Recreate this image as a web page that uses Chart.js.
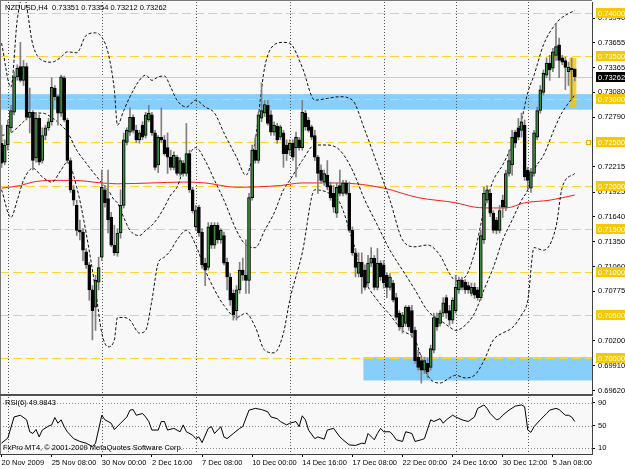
<!DOCTYPE html>
<html lang="en">
<head>
<meta charset="UTF-8">
<title>NZDUSD,H4</title>
<style>
  html, body { margin: 0; padding: 0; background: #fff; }
  #wrap { position: relative; width: 625px; height: 469px; overflow: hidden; }
  #wrap canvas { position: absolute; left: 0; }
  #mainChart { top: 0; }
  #rsiChart { top: 396px; }
</style>
</head>
<body>
<div id="wrap">
  <canvas id="mainChart" width="625" height="396"></canvas>
  <canvas id="rsiChart" width="625" height="73"></canvas>
</div>
<script src="https://cdn.jsdelivr.net/npm/chart.js"></script>
<script>
  // trading sessions shown on the chart (H4 bars)
  const sessionDays  = ['20 Nov','23 Nov','24 Nov','25 Nov','26 Nov','27 Nov','30 Nov','1 Dec','2 Dec','3 Dec','4 Dec',
                        '7 Dec','8 Dec','9 Dec','10 Dec','11 Dec','14 Dec','15 Dec','16 Dec','17 Dec','18 Dec',
                        '21 Dec','22 Dec','23 Dec','24 Dec','28 Dec','29 Dec','30 Dec','31 Dec','4 Jan','5 Jan','6 Jan'];
  const sessionOpen  = [16,0,0,0,0,0,0,0,0,0,0,0,0,0,0,0,0,0,0,0,0,0,0,0,0,0,0,0,0,0,0,0];
  const sessionClose = [20,20,20,20,20,20,20,20,20,20,20,20,20,20,20,20,20,20,20,20,20,20,20,20,16,20,20,20,16,20,20,12];
  const futureSlots = 5;

  const timeTickIdx  = [0, 16, 32, 48, 64, 80, 96, 112, 128, 144, 160, 176];
  const timeTickText = ['20 Nov 2009','25 Nov 08:00','30 Nov 00:00','2 Dec 16:00','7 Dec 08:00','10 Dec 00:00',
                        '14 Dec 16:00','17 Dec 08:00','22 Dec 00:00','24 Dec 16:00','30 Dec 12:00','5 Jan 08:00'];
  const weekStartIdx = [2, 32, 62, 92, 122, 145, 168];

  const opens = [
    0.7249,0.7227,0.7247,0.7267,0.7285,0.7326,0.7338,0.7322,0.7338,0.7279,
    0.7285,0.7232,0.7278,0.7229,0.7258,0.7267,0.7274,0.7313,0.7303,0.7284,
    0.7325,0.7276,0.7229,0.7195,0.7177,0.7148,0.7146,0.7123,0.7108,0.7079,
    0.7059,0.7088,0.7117,0.7195,0.7185,0.7163,0.7131,0.7122,0.7145,0.7177,
    0.7250,0.7262,0.7279,0.7264,0.7253,0.7270,0.7258,0.7276,0.7282,0.7261,
    0.7224,0.7256,0.7253,0.7244,0.7233,0.7221,0.7233,0.7214,0.7226,0.7214,
    0.7237,0.7195,0.7152,0.7175,0.7146,0.7110,0.7105,0.7154,0.7131,0.7154,
    0.7137,0.7142,0.7111,0.7094,0.7075,0.7055,0.7079,0.7102,0.7096,0.7090,
    0.7186,0.7241,0.7229,0.7278,0.7284,0.7293,0.7282,0.7262,0.7269,0.7256,
    0.7261,0.7247,0.7241,0.7249,0.7244,0.7253,0.7244,0.7284,0.7276,0.7268,
    0.7258,0.7233,0.7218,0.7204,0.7212,0.7200,0.7191,0.7168,0.7200,0.7191,
    0.7203,0.7191,0.7148,0.7122,0.7098,0.7111,0.7102,0.7087,0.7110,0.7116,
    0.7082,0.7110,0.7108,0.7096,0.7082,0.7087,0.7070,0.7052,0.7036,0.7040,
    0.7059,0.7055,0.7032,0.7001,0.6997,0.6986,0.6994,0.6989,0.7009,0.7046,
    0.7040,0.7052,0.7070,0.7055,0.7044,0.7055,0.7079,0.7090,0.7088,0.7084,
    0.7075,0.7082,0.7079,0.7070,0.7137,0.7183,0.7191,0.7168,0.7160,0.7148,
    0.7183,0.7175,0.7214,0.7224,0.7262,0.7267,0.7264,0.7270,0.7218,0.7197,
    0.7214,0.7256,0.7287,0.7308,0.7328,0.7342,0.7336,0.7351,0.7363,0.7348,
    0.7345,0.7332,0.7336,0.73351];
  const highs = [
    0.7270,0.7253,0.7276,0.7293,0.7332,0.7340,0.7366,0.7345,0.7342,0.7313,
    0.7287,0.7285,0.7282,0.7267,0.7270,0.7278,0.7325,0.7316,0.7305,0.7328,
    0.7327,0.7278,0.7232,0.7200,0.7183,0.7160,0.7150,0.7127,0.7111,0.7084,
    0.7096,0.7117,0.7218,0.7200,0.7218,0.7169,0.7154,0.7150,0.7195,0.7261,
    0.7267,0.7290,0.7282,0.7270,0.7264,0.7274,0.7285,0.7293,0.7285,0.7264,
    0.7258,0.7290,0.7258,0.7261,0.7241,0.7239,0.7235,0.7232,0.7229,0.7272,
    0.7241,0.7198,0.7177,0.7177,0.7150,0.7116,0.7157,0.7157,0.7157,0.7157,
    0.7150,0.7146,0.7116,0.7098,0.7079,0.7084,0.7111,0.7116,0.7137,0.7191,
    0.7247,0.7256,0.7285,0.7319,0.7299,0.7299,0.7287,0.7274,0.7272,0.7270,
    0.7264,0.7253,0.7253,0.7253,0.7262,0.7256,0.7299,0.7287,0.7279,0.7270,
    0.7264,0.7235,0.7224,0.7218,0.7229,0.7204,0.7200,0.7203,0.7218,0.7206,
    0.7206,0.7204,0.7152,0.7127,0.7122,0.7122,0.7108,0.7119,0.7128,0.7119,
    0.7127,0.7113,0.7113,0.7099,0.7098,0.7090,0.7075,0.7055,0.7053,0.7061,
    0.7061,0.7061,0.7036,0.7009,0.7003,0.7001,0.7000,0.7015,0.7052,0.7052,
    0.7055,0.7070,0.7073,0.7061,0.7070,0.7096,0.7094,0.7094,0.7091,0.7088,
    0.7087,0.7087,0.7082,0.7148,0.7198,0.7200,0.7195,0.7171,0.7163,0.7177,
    0.7189,0.7218,0.7241,0.7264,0.7264,0.7278,0.7284,0.7276,0.7221,0.7220,
    0.7264,0.7291,0.7316,0.7334,0.7348,0.7351,0.7359,0.7388,0.7371,0.7351,
    0.7349,0.7343,0.7348,0.73354];
  const lows = [
    0.7221,0.7224,0.7241,0.7262,0.7282,0.7322,0.7320,0.7316,0.7276,0.7261,
    0.7218,0.7227,0.7224,0.7226,0.7253,0.7264,0.7270,0.7299,0.7270,0.7280,
    0.7274,0.7226,0.7192,0.7177,0.7142,0.7137,0.7113,0.7104,0.7067,0.7021,
    0.7032,0.7079,0.7113,0.7175,0.7145,0.7129,0.7119,0.7118,0.7139,0.7174,
    0.7247,0.7258,0.7261,0.7250,0.7249,0.7253,0.7255,0.7274,0.7258,0.7218,
    0.7215,0.7250,0.7235,0.7214,0.7218,0.7218,0.7212,0.7211,0.7211,0.7211,
    0.7192,0.7168,0.7148,0.7141,0.7104,0.7084,0.7102,0.7127,0.7127,0.7133,
    0.7133,0.7108,0.7079,0.7061,0.7044,0.7044,0.7075,0.7090,0.7075,0.7075,
    0.7183,0.7226,0.7226,0.7274,0.7280,0.7270,0.7258,0.7258,0.7249,0.7253,
    0.7221,0.7229,0.7235,0.7229,0.7210,0.7241,0.7241,0.7264,0.7262,0.7253,
    0.7229,0.7191,0.7203,0.7200,0.7195,0.7183,0.7169,0.7163,0.7188,0.7188,
    0.7189,0.7146,0.7119,0.7094,0.7094,0.7075,0.7079,0.7083,0.7106,0.7079,
    0.7079,0.7090,0.7081,0.7070,0.7079,0.7065,0.7044,0.7032,0.7029,0.7037,
    0.7032,0.7024,0.6994,0.6986,0.6971,0.6982,0.6977,0.6986,0.7006,0.7032,
    0.7037,0.7048,0.7046,0.7038,0.7040,0.7052,0.7075,0.7079,0.7075,0.7075,
    0.7072,0.7069,0.7067,0.7067,0.7133,0.7180,0.7164,0.7145,0.7144,0.7145,
    0.7163,0.7171,0.7211,0.7212,0.7244,0.7253,0.7256,0.7206,0.7195,0.7192,
    0.7211,0.7253,0.7284,0.7305,0.7325,0.7322,0.7332,0.7345,0.7325,0.7340,
    0.7311,0.7316,0.7299,0.73212];
  const closes = [
    0.7226,0.7247,0.7270,0.7287,0.7326,0.7336,0.7322,0.7338,0.7279,0.7285,
    0.7229,0.7278,0.7227,0.7258,0.7267,0.7274,0.7314,0.7303,0.7284,0.7326,
    0.7276,0.7229,0.7195,0.7183,0.7148,0.7146,0.7125,0.7108,0.7079,0.7055,
    0.7090,0.7105,0.7198,0.7180,0.7160,0.7131,0.7122,0.7145,0.7177,0.7253,
    0.7264,0.7279,0.7264,0.7253,0.7261,0.7256,0.7282,0.7284,0.7261,0.7221,
    0.7256,0.7253,0.7237,0.7233,0.7221,0.7235,0.7214,0.7229,0.7214,0.7237,
    0.7195,0.7171,0.7171,0.7145,0.7108,0.7102,0.7152,0.7131,0.7154,0.7137,
    0.7148,0.7110,0.7094,0.7067,0.7050,0.7079,0.7102,0.7096,0.7090,0.7186,
    0.7241,0.7229,0.7282,0.7287,0.7294,0.7272,0.7262,0.7270,0.7253,0.7268,
    0.7237,0.7237,0.7249,0.7233,0.7256,0.7244,0.7285,0.7268,0.7264,0.7256,
    0.7233,0.7214,0.7206,0.7214,0.7198,0.7186,0.7175,0.7198,0.7191,0.7203,
    0.7191,0.7148,0.7122,0.7105,0.7111,0.7094,0.7082,0.7110,0.7116,0.7082,
    0.7110,0.7094,0.7087,0.7082,0.7094,0.7067,0.7047,0.7036,0.7050,0.7059,
    0.7036,0.7029,0.6997,0.6989,0.6986,0.6997,0.6984,0.7011,0.7047,0.7036,
    0.7052,0.7064,0.7052,0.7044,0.7067,0.7082,0.7090,0.7082,0.7079,0.7079,
    0.7082,0.7073,0.7070,0.7142,0.7191,0.7195,0.7168,0.7148,0.7148,0.7171,
    0.7175,0.7214,0.7229,0.7256,0.7249,0.7256,0.7274,0.7210,0.7206,0.7216,
    0.7261,0.7287,0.7311,0.7330,0.7342,0.7334,0.7355,0.7361,0.7345,0.7343,
    0.7337,0.7337,0.7334,0.73262];

  // Bollinger bands and moving average, read at selected bars
  const bbIdx    = [0,3,5,7,10,13,16,19,21,24,27,30,32,34,36,37,39,41,44,46,48,50,52,54,56,59,62,65,68,71,
                    75,78,81,84,87,90,92,96,100,104,108,112,116,120,124,128,132,136,140,143,145,148,151,154,157,
                    160,163,166,168,170,173,177,179,183];
  const bbUpper  = [0.7365,0.7314,0.7392,0.7421,0.7363,0.7345,0.7343,0.7349,0.7355,0.7354,0.7374,0.7377,0.7372,0.7354,0.7311,
                    0.7270,0.7287,0.7303,0.7322,0.7328,0.7322,0.7326,0.7327,0.7314,0.7299,0.7291,0.7299,0.7291,0.7284,0.7261,
                    0.7233,0.7212,0.7253,0.7337,0.7363,0.7366,0.7365,0.7337,0.7299,0.7301,0.7303,0.7299,0.7264,0.7224,0.7183,
                    0.7137,0.7129,0.7131,0.7119,0.7098,0.7090,0.7094,0.7122,0.7171,0.7206,0.7224,0.7247,0.7276,0.7308,0.7328,
                    0.7363,0.7388,0.7395,0.7403];
  const bbMiddle = [0.7258,0.7261,0.7267,0.7274,0.7284,0.7284,0.7279,0.7270,0.7262,0.7241,0.7226,0.7212,0.7203,0.7195,0.7183,
                    0.7180,0.7163,0.7148,0.7142,0.7148,0.7154,0.7163,0.7175,0.7189,0.7198,0.7229,0.7244,0.7229,0.7206,0.7183,
                    0.7148,0.7131,0.7128,0.7148,0.7168,0.7195,0.7206,0.7229,0.7247,0.7247,0.7241,0.7218,0.7183,0.7154,0.7125,
                    0.7102,0.7079,0.7055,0.7044,0.7036,0.7032,0.7038,0.7052,0.7079,0.7105,0.7137,0.7160,0.7183,0.7195,0.7218,
                    0.7235,0.7270,0.7285,0.7305];
  const bbLower  = [0.7195,0.7163,0.7183,0.7206,0.7220,0.7210,0.7204,0.7218,0.7227,0.7198,0.7145,0.7079,0.7029,0.7013,0.7021,
                    0.7047,0.7047,0.7044,0.7029,0.7032,0.7067,0.7110,0.7117,0.7125,0.7137,0.7148,0.7131,0.7102,0.7079,0.7061,
                    0.7047,0.7052,0.7036,0.7009,0.7006,0.7029,0.7067,0.7122,0.7195,0.7192,0.7180,0.7137,0.7090,0.7067,0.7050,
                    0.7032,0.7021,0.6980,0.6971,0.6977,0.6980,0.6977,0.6980,0.6997,0.7021,0.7029,0.7035,0.7050,0.7067,0.7128,
                    0.7125,0.7152,0.7198,0.7214];
  const maIdx  = [0,6,10,16,23,32,37,48,58,65,75,89,96,103,113,122,133,145,151,157,161,167,175,183];
  const maVals = [0.7197,0.7200,0.7204,0.7206,0.7206,0.7203,0.7202,0.7203,0.7204,0.7203,0.7198,0.7200,
                  0.7203,0.7203,0.7202,0.7197,0.7186,0.7180,0.7175,0.7174,0.7174,0.7180,0.7183,0.7189];

  // RSI(6)
  const rsiIdx = [0,2,4,6,8,9,10,11,12,13,15,16,17,18,19,20,21,23,25,27,29,30,32,33,35,36,38,40,41,42,43,45,46,47,48,50,
                  51,52,53,55,57,58,59,61,62,63,64,66,67,68,70,71,72,74,76,77,79,81,83,85,86,88,89,91,92,94,95,96,97,98,
                  100,101,103,104,106,108,109,111,113,115,116,117,119,120,121,122,124,125,126,128,129,131,132,134,135,137,
                  138,140,141,142,144,145,147,149,151,152,154,155,156,158,159,160,162,164,166,167,168,169,170,172,174,175,
                  177,178,180,181,182,183];
  const rsiVals = [19,28,65,68,60,39,36,43,30,42,49,51,64,54,60,48,39,27,22,19,13,19,68,60,54,43,54,65,77,78,68,71,65,57,42,42,
                   57,57,42,45,39,51,39,33,27,30,20,45,48,36,48,30,27,36,45,48,77,80,78,74,65,62,57,51,54,57,48,67,60,42,
                   27,30,26,42,45,30,25,16,15,19,18,36,25,36,45,39,39,33,25,22,39,36,22,25,27,60,
                   57,62,54,60,68,65,60,57,65,80,86,80,71,60,62,68,77,84,86,83,42,38,48,60,71,77,
                   80,78,68,68,65,57,50];
  const rsiLevels = [10, 50, 90];

  // price axis and chart objects
  const yMin = 0.69583, yMax = 0.74128;
  const priceTicks = [0.7394,0.73655,0.73365,0.7308,0.7279,0.72215,0.71925,0.7164,0.7135,0.7106,0.70775,0.702,0.6991,0.6962];
  const levelPrices = [0.7400,0.7350,0.7300,0.7250,0.7200,0.7150,0.7100,0.7050,0.7000];
  const selectedLevel = 0.7250;
  const zoneTop    = [0.7306, 0.7001];
  const zoneBottom = [0.7288, 0.6974];
  const zoneFrom   = [null, 116];
  const markFrom = 181.3, markTo = 183.5, markTop = 0.7348, markBottom = 0.7290;
  const bidPrice = 0.73262;

  const barTimes = [];
  sessionDays.forEach((d, k) => {
    for (let h = sessionOpen[k]; h <= sessionClose[k]; h += 4) {
      barTimes.push(d + ' ' + String(h).padStart(2, '0') + ':00');
    }
  });
  const labels = barTimes.concat(new Array(futureSlots).fill(''));

  function sparse(idx, vals) {
    const out = new Array(barTimes.length).fill(null);
    idx.forEach((k, j) => { out[k] = vals[j]; });
    return out;
  }

  const font = "'Liberation Sans', Arial, sans-serif";
  Chart.defaults.font.family = font;
  Chart.defaults.font.size = 7.5;
  Chart.defaults.color = '#000';

  function drawWeekLines(ctx, x, top, bottom) {
    ctx.strokeStyle = '#555';
    ctx.lineWidth = 1;
    ctx.setLineDash([1, 2]);
    weekStartIdx.forEach(k => {
      const px = Math.round(x.getPixelForValue(k)) + 0.5;
      ctx.beginPath(); ctx.moveTo(px, top); ctx.lineTo(px, bottom); ctx.stroke();
    });
    ctx.setLineDash([]);
  }

  // keep the plot area flush with the canvas edges
  function noPad(s) { s.paddingTop = 0; s.paddingBottom = 0; s.paddingLeft = 0; s.paddingRight = 0; }

  const mainDecor = {
    id: 'mainDecor',
    beforeDraw(chart) {
      const { ctx, chartArea: a } = chart;
      ctx.save();
      ctx.fillStyle = '#fff';
      ctx.fillRect(0, 0, chart.width, chart.height);
      ctx.fillStyle = '#f8f8f8';
      ctx.fillRect(a.left, a.top, a.right - a.left, a.bottom - a.top);
      ctx.restore();
    },
    beforeDatasetsDraw(chart) {
      const { ctx, chartArea: a, scales: { x, y } } = chart;
      ctx.save();
      ctx.beginPath(); ctx.rect(a.left, a.top, a.right - a.left, a.bottom - a.top); ctx.clip();
      ctx.fillStyle = '#87cefa';
      zoneTop.forEach((t, k) => {
        const x0 = zoneFrom[k] === null ? a.left : x.getPixelForValue(zoneFrom[k]) - 1.5;
        const y0 = y.getPixelForValue(t), y1 = y.getPixelForValue(zoneBottom[k]);
        ctx.fillRect(x0, y0, a.right - x0, y1 - y0);
      });
      ctx.fillStyle = 'rgba(245,196,0,0.8)';
      const mx0 = x.getPixelForValue(markFrom), mx1 = x.getPixelForValue(markTo);
      const my0 = y.getPixelForValue(markTop), my1 = y.getPixelForValue(markBottom);
      ctx.fillRect(mx0, my0, mx1 - mx0, my1 - my0);

      drawWeekLines(ctx, x, a.top, a.bottom);

      ctx.strokeStyle = '#fcd535';
      ctx.lineWidth = 1.2;
      ctx.setLineDash([9, 4]);
      levelPrices.forEach(p => {
        const py = Math.round(y.getPixelForValue(p)) + 0.5;
        ctx.beginPath(); ctx.moveTo(a.left, py); ctx.lineTo(a.right, py); ctx.stroke();
      });
      ctx.setLineDash([]);
      ctx.strokeStyle = '#d4ccc4';
      ctx.lineWidth = 1;
      const by = Math.round(y.getPixelForValue(bidPrice)) + 0.5;
      ctx.beginPath(); ctx.moveTo(a.left, by); ctx.lineTo(a.right, by); ctx.stroke();

      // selection handles of the highlighted level line
      const sy = Math.round(y.getPixelForValue(selectedLevel)) + 0.5;
      ctx.strokeStyle = '#e0b000';
      ctx.fillStyle = '#fff';
      ctx.beginPath(); ctx.arc(a.left + 3.5, sy, 2, 0, Math.PI * 2); ctx.fill(); ctx.stroke();
      ctx.fillRect(a.right - 5.5, sy - 2, 4, 4);
      ctx.strokeRect(a.right - 5.5, sy - 2, 4, 4);
      ctx.restore();
    },
    afterDraw(chart) {
      const { ctx, chartArea: a, scales: { y } } = chart;
      ctx.save();
      ctx.font = '7.5px ' + font;
      ctx.textBaseline = 'middle';
      levelPrices.forEach(p => {
        const py = Math.round(y.getPixelForValue(p));
        ctx.fillStyle = '#f5c800';
        ctx.fillRect(a.right + 4, py - 5, chart.width - a.right - 4, 10);
        ctx.fillStyle = '#fff';
        ctx.fillText(p.toFixed(5), a.right + 6, py + 0.5);
      });
      const by = Math.round(y.getPixelForValue(bidPrice));
      ctx.fillStyle = '#000';
      ctx.fillRect(a.right + 4, by - 5, chart.width - a.right - 4, 10);
      ctx.fillStyle = '#fff';
      ctx.fillText(bidPrice.toFixed(5), a.right + 6, by + 0.5);

      ctx.fillStyle = '#000';
      ctx.fillText('NZDUSD,H4  0.73351 0.73354 0.73212 0.73262', 5, 8);

      ctx.fillStyle = '#777';
      ctx.fillRect(0, 0, a.right, 1);
      ctx.fillRect(0, 0, 1, a.bottom);
      ctx.fillStyle = '#505050';
      ctx.fillRect(0, a.bottom, a.right + 1, 2);
      ctx.restore();
    }
  };

  const rsiDecor = {
    id: 'rsiDecor',
    beforeDraw(chart) {
      const { ctx, chartArea: a } = chart;
      ctx.save();
      ctx.fillStyle = '#fff';
      ctx.fillRect(0, 0, chart.width, chart.height);
      ctx.fillStyle = '#f8f8f8';
      ctx.fillRect(a.left, a.top, a.right - a.left, a.bottom - a.top);
      ctx.restore();
    },
    beforeDatasetsDraw(chart) {
      const { ctx, chartArea: a, scales: { x, y } } = chart;
      ctx.save();
      drawWeekLines(ctx, x, a.top, a.bottom);
      ctx.strokeStyle = '#888';
      ctx.setLineDash([1, 2]);
      rsiLevels.forEach(v => {
        const py = Math.round(y.getPixelForValue(v)) + 0.5;
        ctx.beginPath(); ctx.moveTo(a.left, py); ctx.lineTo(a.right, py); ctx.stroke();
      });
      ctx.restore();
    },
    afterDraw(chart) {
      const { ctx, chartArea: a } = chart;
      ctx.save();
      ctx.font = '7.5px ' + font;
      ctx.textBaseline = 'middle';
      ctx.fillStyle = '#000';
      ctx.fillText('RSI(6) 49.9843', 5, 7);
      ctx.fillText('FxPro MT4, \u00a9 2001-2009 MetaQuotes Software Corp.', 3, 52);
      ctx.fillStyle = '#777';
      ctx.fillRect(0, 0, 1, a.bottom);
      ctx.restore();
    }
  };

  const lineCommon = { type: 'line', pointRadius: 0, spanGaps: true, borderWidth: 1, fill: false };

  new Chart(document.getElementById('mainChart'), {
    type: 'bar',
    data: {
      labels: labels,
      datasets: [
        {
          label: 'Body',
          data: opens.map((o, i) => [o, closes[i]]),
          grouped: false,
          barThickness: 3,
          borderWidth: 1,
          borderSkipped: false,
          borderColor: '#000',
          backgroundColor: ctx => closes[ctx.dataIndex] >= opens[ctx.dataIndex] ? '#3f8a3f' : '#000',
          order: 0
        },
        {
          label: 'Wick',
          data: lows.map((l, i) => [l, highs[i]]),
          grouped: false,
          barThickness: 1,
          backgroundColor: '#808080',
          order: 1
        },
        Object.assign({ label: 'BB upper', data: sparse(bbIdx, bbUpper), borderColor: '#111', borderDash: [3, 2], cubicInterpolationMode: 'monotone', order: 2 }, lineCommon),
        Object.assign({ label: 'BB middle', data: sparse(bbIdx, bbMiddle), borderColor: '#111', borderDash: [3, 2], cubicInterpolationMode: 'monotone', order: 2 }, lineCommon),
        Object.assign({ label: 'BB lower', data: sparse(bbIdx, bbLower), borderColor: '#111', borderDash: [3, 2], cubicInterpolationMode: 'monotone', order: 2 }, lineCommon),
        Object.assign({ label: 'MA', data: sparse(maIdx, maVals), borderColor: '#f02020', cubicInterpolationMode: 'monotone', order: 3 }, lineCommon)
      ]
    },
    options: {
      responsive: false,
      animation: false,
      events: [],
      layout: { padding: { left: 0, right: 0, top: 2, bottom: 2 } },
      plugins: { legend: { display: false }, tooltip: { enabled: false } },
      scales: {
        x: { type: 'category', offset: true, display: false },
        y: {
          position: 'right',
          min: yMin,
          max: yMax,
          afterBuildTicks: s => { s.ticks = priceTicks.map(v => ({ value: v })); },
          afterFit: s => { s.width = 33; noPad(s); },
          ticks: { callback: v => Number(v).toFixed(5), padding: 3, color: '#000' },
          grid: { drawOnChartArea: false, drawTicks: true, tickLength: 3, tickColor: '#000' },
          border: { display: true, color: '#404040' }
        }
      }
    },
    plugins: [mainDecor]
  });

  new Chart(document.getElementById('rsiChart'), {
    type: 'line',
    data: {
      labels: labels,
      datasets: [
        Object.assign({ label: 'RSI(6)', data: sparse(rsiIdx, rsiVals), borderColor: '#000', tension: 0 }, lineCommon)
      ]
    },
    options: {
      responsive: false,
      animation: false,
      events: [],
      layout: { padding: { left: 0, right: 0, top: 1, bottom: 0 } },
      plugins: { legend: { display: false }, tooltip: { enabled: false } },
      scales: {
        x: {
          type: 'category',
          offset: true,
          afterFit: s => { s.height = 15; noPad(s); },
          ticks: {
            autoSkip: false, maxRotation: 0, minRotation: 0, align: 'start', padding: 1, color: '#000',
            callback: (v, i) => { const k = timeTickIdx.indexOf(i); return k < 0 ? '' : timeTickText[k]; }
          },
          grid: {
            drawOnChartArea: false, drawTicks: true, tickLength: 3,
            tickColor: c => timeTickIdx.includes(c.index) ? '#000' : 'rgba(0,0,0,0)'
          },
          border: { display: true, color: '#404040' }
        },
        y: {
          position: 'right',
          min: 0,
          max: 100,
          afterBuildTicks: s => { s.ticks = rsiLevels.map(v => ({ value: v })); },
          afterFit: s => { s.width = 33; noPad(s); },
          ticks: { padding: 3, color: '#000' },
          grid: { drawOnChartArea: false, drawTicks: true, tickLength: 3, tickColor: '#000' },
          border: { display: true, color: '#404040' }
        }
      }
    },
    plugins: [rsiDecor]
  });
</script>
</body>
</html>
